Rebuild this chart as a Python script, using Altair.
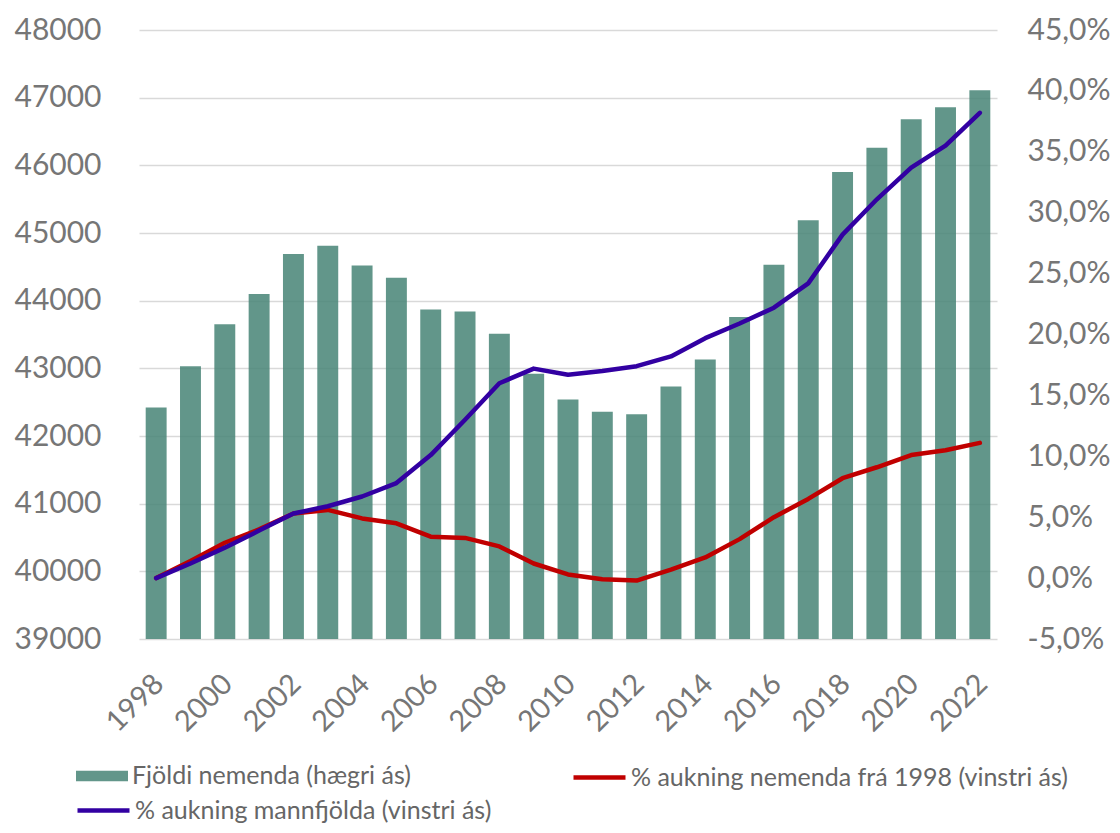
import altair as alt
import pandas as pd

years = list(range(1998, 2023))
students = [42420, 43030, 43650, 44100, 44690, 44810, 44520, 44340, 43870, 43840,
            43510, 42920, 42540, 42360, 42320, 42730, 43130, 43760, 44530, 45190,
            45900, 46260, 46680, 46860, 47110]
student_pct = [0.0, 1.4, 2.9, 4.0, 5.3, 5.6, 4.9, 4.5, 3.4, 3.3,
               2.6, 1.2, 0.3, -0.1, -0.2, 0.7, 1.7, 3.2, 5.0, 6.5,
               8.2, 9.1, 10.1, 10.5, 11.1]
pop_pct = [0.0, 1.2, 2.5, 3.9, 5.3, 5.9, 6.7, 7.8, 10.1, 13.0,
           16.0, 17.2, 16.7, 17.0, 17.4, 18.2, 19.7, 20.9, 22.2, 24.2,
           28.2, 31.1, 33.7, 35.5, 38.2]
x_ticks = list(range(1998, 2023, 2))
left_ticks = list(range(39000, 48001, 1000))
right_ticks = list(range(-5, 46, 5))

s_bar = "Fjöldi nemenda (hægri ás)"
s_red = "% aukning nemenda frá 1998 (vinstri ás)"
s_blue = "% aukning mannfjölda (vinstri ás)"

df_bar = pd.DataFrame({"year": years, "value": students, "series": s_bar})
df_red = pd.DataFrame({"year": years, "value": student_pct, "series": s_red})
df_blue = pd.DataFrame({"year": years, "value": pop_pct, "series": s_blue})

FONT = "Lato"
GRAY = "#767676"
LEG = dict(title=None, orient="none", labelFontSize=25, labelFont=FONT,
           labelFontWeight=400, labelColor="#666666", labelOffset=3, padding=0,
           labelLimit=600)

xenc = alt.X(
    "year:O",
    title=None,
    scale=alt.Scale(paddingInner=0.39, paddingOuter=0.195),
    axis=alt.Axis(values=x_ticks, labelAngle=-45, labelAlign="right", labelBaseline="top",
                  labelFontSize=29, labelFont=FONT, labelFontWeight=400, labelColor=GRAY,
                  labelPadding=30, labelOffset=-7, ticks=False, domain=False, grid=False),
)

bars = alt.Chart(df_bar).mark_bar(opacity=0.85, clip=True).encode(
    x=xenc,
    y=alt.Y("value:Q", title=None,
            scale=alt.Scale(domain=[39000, 48000], nice=False, zero=False),
            axis=alt.Axis(orient="left", values=left_ticks, format="d", labelFontSize=30,
                          labelFont=FONT, labelFontWeight=400, labelColor=GRAY,
                          labelPadding=38, ticks=False, domain=False, grid=True,
                          gridColor="#d9d9d9", gridWidth=1.5)),
    color=alt.Color("series:N", scale=alt.Scale(domain=[s_bar], range=["#478475"]),
                    legend=alt.Legend(legendX=-64, legendY=719,
                                      symbolType="M-1,-0.2H1V0.2H-1Z", symbolSize=2704,
                                      symbolOpacity=0.85, **LEG)),
)

pct_label = "(datum.value < 0 ? '-' : '') + replace(format(abs(datum.value), '.1f'), '.', ',') + '%'"

red = alt.Chart(df_red).mark_line(strokeWidth=4.5, strokeCap="round", strokeJoin="round").encode(
    x=xenc,
    y=alt.Y("value:Q", title=None,
            scale=alt.Scale(domain=[-5, 45], nice=False, zero=False),
            axis=alt.Axis(orient="right", values=right_ticks, labelExpr=pct_label,
                          labelFontSize=30, labelFont=FONT, labelFontWeight=400,
                          labelColor=GRAY, labelPadding=30, ticks=False, domain=False,
                          grid=False)),
    color=alt.Color("series:N", scale=alt.Scale(domain=[s_red], range=["#c00000"]),
                    legend=alt.Legend(legendX=432, legendY=719,
                                      symbolType="stroke", symbolSize=2704,
                                      symbolStrokeWidth=4.5, **LEG)),
)

blue = alt.Chart(df_blue).mark_line(strokeWidth=4.5, strokeCap="round", strokeJoin="round").encode(
    x=xenc,
    y=alt.Y("value:Q", title=None,
            scale=alt.Scale(domain=[-5, 45], nice=False, zero=False),
            axis=None),
    color=alt.Color("series:N", scale=alt.Scale(domain=[s_blue], range=["#3200a2"]),
                    legend=alt.Legend(legendX=-64, legendY=752,
                                      symbolType="stroke", symbolSize=2704,
                                      symbolStrokeWidth=4.5, **LEG)),
)

chart = alt.layer(bars, red, blue).resolve_scale(
    y="independent", color="independent"
).properties(
    width=858, height=609,
    autosize=alt.AutoSizeParams(type="none"),
    padding={"left": 131, "top": 22, "right": 115, "bottom": 186},
).configure_view(stroke=None)

chart.save("out.html", embed_options={"renderer": "svg", "actions": False})
